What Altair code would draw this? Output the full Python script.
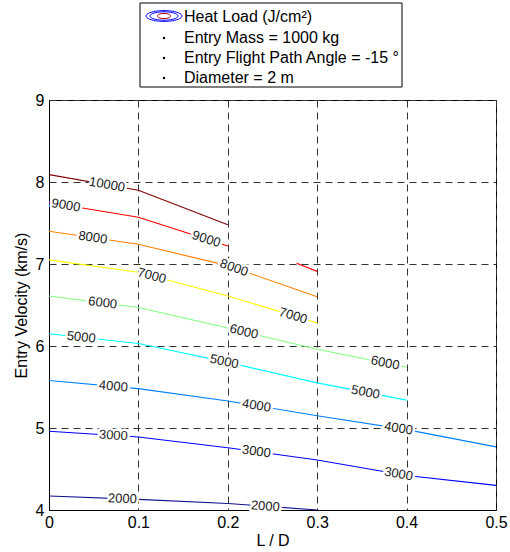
import altair as alt
import numpy as np
import pandas as pd

# ---------------- data ----------------
ld = [0.0, 0.1, 0.2, 0.3, 0.4, 0.5]
levels = [2000, 3000, 4000, 5000, 6000, 7000, 8000, 9000, 10000]
colors = ["#10108c", "#0000ff", "#0080ff", "#00ffff", "#80ff80",
          "#ffff00", "#ff8000", "#ff0000", "#800000"]

v2000 = [4.17, 4.13, 4.08, 4.00]
v3000 = [4.96, 4.89, 4.76, 4.61, 4.42, 4.30]
v4000 = [5.58, 5.48, 5.33, 5.15, 4.98, 4.77]
v5000 = [6.15, 6.03, 5.80, 5.55, 5.34]
v6000 = [6.61, 6.47, 6.22, 5.96, 5.74]
v7000 = [7.05, 6.90, 6.61, 6.28]
v8000 = [7.40, 7.24, 6.98, 6.60]
v9000 = [7.75, 7.57, 7.22]
v9000b_ld = [0.277, 0.3]
v9000b = [7.01, 6.91]
v10000 = [8.09, 7.90, 7.48]

# label anchor positions (L/D) along each contour
label_ld = {
    10000: [0.065],
    9000: [0.019, 0.176],
    8000: [0.049, 0.207],
    7000: [0.115, 0.273],
    6000: [0.060, 0.218, 0.376],
    5000: [0.036, 0.196, 0.354],
    4000: [0.072, 0.232, 0.391],
    3000: [0.072, 0.232, 0.391],
    2000: [0.082, 0.242],
}

legend_lines = ["Heat Load (J/cm²)", "Entry Mass = 1000 kg",
                "Entry Flight Path Angle = -15 °", "Diameter = 2 m"]

# ---------------- build tables ----------------
segments = {
    2000: [(ld[:len(v2000)], v2000)],
    3000: [(ld[:len(v3000)], v3000)],
    4000: [(ld[:len(v4000)], v4000)],
    5000: [(ld[:len(v5000)], v5000)],
    6000: [(ld[:len(v6000)], v6000)],
    7000: [(ld[:len(v7000)], v7000)],
    8000: [(ld[:len(v8000)], v8000)],
    9000: [(ld[:len(v9000)], v9000), (v9000b_ld, v9000b)],
    10000: [(ld[:len(v10000)], v10000)],
}

W, H = 447, 410
px_x = W / 0.5
px_y = H / 5.0

rows = []
for lev, segs in segments.items():
    for si, (xs, ys) in enumerate(segs):
        for k, (x, y) in enumerate(zip(xs, ys)):
            rows.append({"ld": x, "v": y, "level": str(lev),
                         "seg": f"{lev}_{si}", "order": k})
lines_df = pd.DataFrame(rows)

lab_rows = []
for lev, xs_lab in label_ld.items():
    xs, ys = segments[lev][0]
    for xl in xs_lab:
        yl = float(np.interp(xl, xs, ys))
        i = max(0, min(len(xs) - 2, int(np.searchsorted(xs, xl, side="right")) - 1))
        slope = (ys[i + 1] - ys[i]) / (xs[i + 1] - xs[i])
        ang = float(np.degrees(np.arctan2(-slope * px_y, px_x)))
        lab_rows.append({"ld": xl, "v": yl, "angle": ang, "text": str(lev)})
labels_df = pd.DataFrame(lab_rows)

# ---------------- chart ----------------
FONT = "Liberation Sans"

xscale = alt.Scale(domain=[0, 0.5], nice=False, zero=False)
yscale = alt.Scale(domain=[4, 9], nice=False, zero=False)

xaxis = alt.Axis(values=ld, format="~g", title="L / D", grid=True,
                 gridDash=[7, 5], gridColor="#333333", gridWidth=1, gridOpacity=1,
                 ticks=False, labelPadding=4, labelFontSize=16, titleFontSize=16,
                 labelFont=FONT, titleFont=FONT, titleFontWeight="normal",
                 labelColor="black", titleColor="black", domainColor="black",
                 titlePadding=2, labelFlush=False)
yaxis = alt.Axis(values=[4, 5, 6, 7, 8, 9], format="d", title="Entry Velocity (km/s)",
                 grid=True, gridDash=[7, 5], gridColor="#333333", gridWidth=1,
                 gridOpacity=1, ticks=False, labelPadding=5, labelFontSize=16,
                 titleFontSize=16, labelFont=FONT, titleFont=FONT,
                 titleFontWeight="normal", labelColor="black", titleColor="black",
                 domainColor="black", titlePadding=6, labelFlush=False)

base_lines = alt.Chart(lines_df).mark_line(strokeWidth=1.1).encode(
    x=alt.X("ld:Q", scale=xscale, axis=xaxis),
    y=alt.Y("v:Q", scale=yscale, axis=yaxis),
    color=alt.Color("level:N", scale=alt.Scale(domain=[str(l) for l in levels],
                                               range=colors), legend=None),
    detail="seg:N",
    order="order:Q",
)

halo = alt.Chart(labels_df).mark_text(font=FONT, fontSize=13, fill="white",
                                      stroke="white", strokeWidth=5,
                                      strokeJoin="round", baseline="middle",
                                      align="center").encode(
    x=alt.X("ld:Q", scale=xscale),
    y=alt.Y("v:Q", scale=yscale),
    angle=alt.Angle("angle:Q", scale=None),
    text="text:N",
)
text = alt.Chart(labels_df).mark_text(font=FONT, fontSize=13, color="#222222",
                                      baseline="middle", align="center").encode(
    x=alt.X("ld:Q", scale=xscale),
    y=alt.Y("v:Q", scale=yscale),
    angle=alt.Angle("angle:Q", scale=None),
    text="text:N",
)

# ---------------- legend box (outside plot, above it) ----------------
one = pd.DataFrame({"a": [0]})
box = alt.Chart(one).mark_rect(fill="white", stroke="black", strokeWidth=1).encode(
    x=alt.value(91), x2=alt.value(353), y=alt.value(-97), y2=alt.value(-13))

t = np.linspace(0, 2 * np.pi, 41)
ell_path = "M" + " L".join(f"{np.cos(a):.3f},{0.3 * np.sin(a):.3f}" for a in t) + " Z"
ell_path2 = "M" + " L".join(f"{np.cos(a):.3f},{0.38 * np.sin(a):.3f}" for a in t) + " Z"

icons = []
for size, col, p in [(1296, "#0000ff", ell_path), (784, "#0000ff", ell_path),
                     (180, "#b00000", ell_path2)]:
    icons.append(alt.Chart(one).mark_point(shape=p, size=size, filled=False,
                                           stroke=col, strokeWidth=1, opacity=1).encode(
        x=alt.value(115), y=alt.value(-84)))

leg_y = [-83, -62, -42, -22]
leg_text = []
for i, s in enumerate(legend_lines):
    leg_text.append(alt.Chart(one).mark_text(text=s, font=FONT, fontSize=16,
                                             color="black", align="left",
                                             baseline="middle").encode(
        x=alt.value(135), y=alt.value(leg_y[i])))
    if i > 0:
        leg_text.append(alt.Chart(one).mark_point(shape="circle", filled=True,
                                                  size=6, color="black", opacity=1).encode(
            x=alt.value(115), y=alt.value(leg_y[i])))

chart = alt.layer(base_lines, halo, text, box, *icons, *leg_text).properties(
    width=W, height=H,
    autosize=alt.AutoSizeParams(type="none"),
    padding={"left": 49, "top": 100, "right": 510 - 49 - W, "bottom": 552 - 100 - H},
    background="white",
).configure_view(stroke="black", strokeWidth=1)

chart.save("out.html", embed_options={"renderer": "svg", "actions": False})
